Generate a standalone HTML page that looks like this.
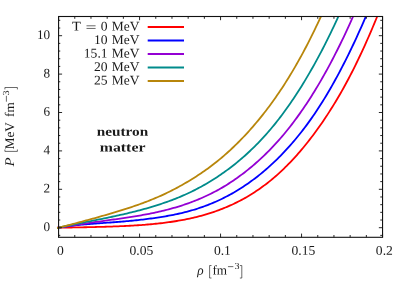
<!DOCTYPE html>
<html><head><meta charset="utf-8"><title>neutron matter pressure</title>
<style>html,body{margin:0;padding:0;background:#fff;}body{width:407px;height:285px;overflow:hidden;position:relative;font-family:"Liberation Serif",serif;}.t,.t text,.t tspan{font-family:"Liberation Serif",serif;}</style>
</head><body>
<svg width="407" height="285" viewBox="0 0 407 285" style="position:absolute;left:0;top:0;will-change:transform;opacity:0.999">
<rect x="0" y="0" width="407" height="285" fill="#fff"/>
<g fill="none" stroke-linejoin="round" stroke-linecap="butt">
<path d="M57.08,227.73 L58.58,227.70 L60.20,227.67 L61.82,227.65 L63.44,227.62 L65.06,227.59 L66.68,227.57 L68.30,227.54 L69.92,227.51 L71.54,227.49 L73.16,227.46 L74.78,227.43 L76.40,227.40 L78.02,227.38 L79.64,227.35 L81.26,227.32 L82.88,227.29 L84.50,227.26 L86.12,227.23 L87.74,227.19 L89.36,227.16 L90.98,227.12 L92.60,227.09 L94.22,227.05 L95.84,227.01 L97.46,226.97 L99.08,226.93 L100.70,226.89 L102.32,226.84 L103.94,226.80 L105.56,226.75 L107.18,226.70 L108.80,226.64 L110.42,226.59 L112.04,226.53 L113.65,226.47 L115.27,226.41 L116.89,226.35 L118.51,226.28 L120.13,226.21 L121.75,226.14 L123.37,226.07 L124.99,225.99 L126.61,225.91 L128.23,225.83 L129.85,225.74 L131.47,225.65 L133.09,225.56 L134.71,225.46 L136.33,225.36 L137.95,225.25 L139.57,225.14 L141.19,225.03 L142.81,224.91 L144.43,224.78 L146.05,224.65 L147.67,224.52 L149.29,224.38 L150.91,224.23 L152.53,224.08 L154.15,223.93 L155.77,223.76 L157.39,223.59 L159.01,223.42 L160.63,223.24 L162.25,223.05 L163.87,222.85 L165.49,222.65 L167.11,222.44 L168.73,222.22 L170.35,221.99 L171.97,221.75 L173.59,221.51 L175.21,221.25 L176.83,220.99 L178.45,220.72 L180.07,220.43 L181.69,220.14 L183.31,219.84 L184.93,219.53 L186.55,219.20 L188.17,218.87 L189.79,218.52 L191.41,218.16 L193.03,217.80 L194.65,217.41 L196.27,217.02 L197.89,216.61 L199.51,216.20 L201.13,215.76 L202.75,215.32 L204.37,214.86 L205.99,214.39 L207.61,213.90 L209.23,213.40 L210.85,212.88 L212.47,212.35 L214.09,211.80 L215.71,211.24 L217.33,210.66 L218.95,210.07 L220.56,209.46 L222.18,208.83 L223.80,208.19 L225.42,207.53 L227.04,206.85 L228.66,206.15 L230.28,205.44 L231.90,204.70 L233.52,203.95 L235.14,203.17 L236.76,202.38 L238.38,201.56 L240.00,200.73 L241.62,199.87 L243.24,198.99 L244.86,198.09 L246.48,197.17 L248.10,196.22 L249.72,195.25 L251.34,194.25 L252.96,193.24 L254.58,192.19 L256.20,191.12 L257.82,190.03 L259.44,188.91 L261.06,187.77 L262.68,186.59 L264.30,185.39 L265.92,184.17 L267.54,182.92 L269.16,181.63 L270.78,180.33 L272.40,178.99 L274.02,177.62 L275.64,176.23 L277.26,174.80 L278.88,173.35 L280.50,171.86 L282.12,170.34 L283.74,168.80 L285.36,167.22 L286.98,165.61 L288.60,163.97 L290.22,162.30 L291.84,160.59 L293.46,158.85 L295.08,157.08 L296.70,155.28 L298.32,153.45 L299.94,151.58 L301.56,149.68 L303.18,147.74 L304.80,145.78 L306.42,143.77 L308.04,141.74 L309.66,139.67 L311.28,137.57 L312.90,135.43 L314.52,133.26 L316.14,131.06 L317.76,128.82 L319.38,126.55 L321.00,124.24 L322.62,121.89 L324.24,119.51 L325.86,117.09 L327.48,114.63 L329.09,112.13 L330.71,109.59 L332.33,107.00 L333.95,104.38 L335.57,101.71 L337.19,99.00 L338.81,96.25 L340.43,93.45 L342.05,90.60 L343.67,87.70 L345.29,84.76 L346.91,81.77 L348.53,78.73 L350.15,75.64 L351.77,72.49 L353.39,69.30 L355.01,66.05 L356.63,62.76 L358.25,59.41 L359.87,56.01 L361.49,52.56 L363.11,49.06 L364.73,45.51 L366.35,41.91 L367.97,38.25 L369.59,34.55 L371.21,30.80 L372.83,27.00 L374.45,23.14 L376.07,19.24 L377.19,16.50" stroke="#ff0000" stroke-width="1.8"/>
<path d="M57.08,227.95 L58.58,227.70 L60.20,227.42 L61.82,227.16 L63.44,226.90 L65.06,226.66 L66.68,226.42 L68.30,226.20 L69.92,225.98 L71.54,225.78 L73.16,225.58 L74.78,225.39 L76.40,225.21 L78.02,225.04 L79.64,224.87 L81.26,224.71 L82.88,224.55 L84.50,224.40 L86.12,224.26 L87.74,224.12 L89.36,223.99 L90.98,223.86 L92.60,223.73 L94.22,223.61 L95.84,223.49 L97.46,223.37 L99.08,223.26 L100.70,223.15 L102.32,223.03 L103.94,222.92 L105.56,222.81 L107.18,222.70 L108.80,222.59 L110.42,222.48 L112.04,222.36 L113.65,222.25 L115.27,222.13 L116.89,222.01 L118.51,221.89 L120.13,221.76 L121.75,221.63 L123.37,221.50 L124.99,221.36 L126.61,221.22 L128.23,221.07 L129.85,220.92 L131.47,220.76 L133.09,220.60 L134.71,220.44 L136.33,220.26 L137.95,220.09 L139.57,219.91 L141.19,219.72 L142.81,219.53 L144.43,219.33 L146.05,219.13 L147.67,218.93 L149.29,218.71 L150.91,218.50 L152.53,218.27 L154.15,218.05 L155.77,217.81 L157.39,217.57 L159.01,217.33 L160.63,217.07 L162.25,216.82 L163.87,216.55 L165.49,216.28 L167.11,215.99 L168.73,215.70 L170.35,215.40 L171.97,215.09 L173.59,214.77 L175.21,214.44 L176.83,214.10 L178.45,213.75 L180.07,213.39 L181.69,213.01 L183.31,212.62 L184.93,212.22 L186.55,211.81 L188.17,211.38 L189.79,210.94 L191.41,210.48 L193.03,210.01 L194.65,209.52 L196.27,209.02 L197.89,208.50 L199.51,207.97 L201.13,207.42 L202.75,206.85 L204.37,206.27 L205.99,205.67 L207.61,205.05 L209.23,204.42 L210.85,203.77 L212.47,203.10 L214.09,202.41 L215.71,201.70 L217.33,200.98 L218.95,200.24 L220.56,199.48 L222.18,198.69 L223.80,197.89 L225.42,197.07 L227.04,196.23 L228.66,195.37 L230.28,194.49 L231.90,193.59 L233.52,192.67 L235.14,191.72 L236.76,190.76 L238.38,189.77 L240.00,188.76 L241.62,187.73 L243.24,186.68 L244.86,185.61 L246.48,184.51 L248.10,183.39 L249.72,182.25 L251.34,181.08 L252.96,179.89 L254.58,178.68 L256.20,177.44 L257.82,176.18 L259.44,174.89 L261.06,173.58 L262.68,172.25 L264.30,170.88 L265.92,169.49 L267.54,168.08 L269.16,166.64 L270.78,165.17 L272.40,163.68 L274.02,162.16 L275.64,160.61 L277.26,159.03 L278.88,157.42 L280.50,155.79 L282.12,154.12 L283.74,152.43 L285.36,150.71 L286.98,148.96 L288.60,147.17 L290.22,145.36 L291.84,143.51 L293.46,141.63 L295.08,139.72 L296.70,137.77 L298.32,135.79 L299.94,133.78 L301.56,131.73 L303.18,129.64 L304.80,127.51 L306.42,125.35 L308.04,123.15 L309.66,120.90 L311.28,118.62 L312.90,116.30 L314.52,113.94 L316.14,111.53 L317.76,109.08 L319.38,106.59 L321.00,104.06 L322.62,101.48 L324.24,98.86 L325.86,96.19 L327.48,93.48 L329.09,90.73 L330.71,87.94 L332.33,85.10 L333.95,82.22 L335.57,79.29 L337.19,76.32 L338.81,73.31 L340.43,70.25 L342.05,67.15 L343.67,64.01 L345.29,60.82 L346.91,57.59 L348.53,54.32 L350.15,51.00 L351.77,47.64 L353.39,44.24 L355.01,40.78 L356.63,37.29 L358.25,33.74 L359.87,30.15 L361.49,26.51 L363.11,22.81 L364.73,19.07 L365.83,16.50" stroke="#0000ff" stroke-width="1.8"/>
<path d="M57.08,227.96 L58.58,227.70 L60.20,227.41 L61.82,227.13 L63.44,226.86 L65.06,226.58 L66.68,226.31 L68.30,226.05 L69.92,225.79 L71.54,225.53 L73.16,225.28 L74.78,225.03 L76.40,224.78 L78.02,224.53 L79.64,224.29 L81.26,224.05 L82.88,223.81 L84.50,223.58 L86.12,223.34 L87.74,223.11 L89.36,222.88 L90.98,222.65 L92.60,222.42 L94.22,222.20 L95.84,221.97 L97.46,221.75 L99.08,221.52 L100.70,221.30 L102.32,221.07 L103.94,220.85 L105.56,220.62 L107.18,220.40 L108.80,220.18 L110.42,219.95 L112.04,219.72 L113.65,219.50 L115.27,219.27 L116.89,219.04 L118.51,218.81 L120.13,218.57 L121.75,218.34 L123.37,218.10 L124.99,217.86 L126.61,217.62 L128.23,217.37 L129.85,217.13 L131.47,216.87 L133.09,216.62 L134.71,216.36 L136.33,216.09 L137.95,215.82 L139.57,215.55 L141.19,215.27 L142.81,214.98 L144.43,214.69 L146.05,214.39 L147.67,214.08 L149.29,213.77 L150.91,213.45 L152.53,213.12 L154.15,212.78 L155.77,212.44 L157.39,212.08 L159.01,211.72 L160.63,211.34 L162.25,210.96 L163.87,210.57 L165.49,210.16 L167.11,209.75 L168.73,209.32 L170.35,208.89 L171.97,208.44 L173.59,207.99 L175.21,207.52 L176.83,207.03 L178.45,206.54 L180.07,206.04 L181.69,205.52 L183.31,204.99 L184.93,204.44 L186.55,203.89 L188.17,203.32 L189.79,202.73 L191.41,202.13 L193.03,201.52 L194.65,200.89 L196.27,200.25 L197.89,199.59 L199.51,198.92 L201.13,198.23 L202.75,197.52 L204.37,196.80 L205.99,196.05 L207.61,195.29 L209.23,194.52 L210.85,193.72 L212.47,192.91 L214.09,192.07 L215.71,191.22 L217.33,190.34 L218.95,189.45 L220.56,188.53 L222.18,187.60 L223.80,186.64 L225.42,185.66 L227.04,184.66 L228.66,183.63 L230.28,182.59 L231.90,181.52 L233.52,180.43 L235.14,179.32 L236.76,178.19 L238.38,177.03 L240.00,175.85 L241.62,174.65 L243.24,173.43 L244.86,172.18 L246.48,170.91 L248.10,169.61 L249.72,168.30 L251.34,166.95 L252.96,165.59 L254.58,164.20 L256.20,162.78 L257.82,161.34 L259.44,159.88 L261.06,158.39 L262.68,156.87 L264.30,155.32 L265.92,153.75 L267.54,152.15 L269.16,150.52 L270.78,148.86 L272.40,147.17 L274.02,145.45 L275.64,143.70 L277.26,141.91 L278.88,140.10 L280.50,138.25 L282.12,136.37 L283.74,134.46 L285.36,132.51 L286.98,130.52 L288.60,128.50 L290.22,126.45 L291.84,124.36 L293.46,122.23 L295.08,120.07 L296.70,117.87 L298.32,115.64 L299.94,113.36 L301.56,111.05 L303.18,108.71 L304.80,106.32 L306.42,103.90 L308.04,101.44 L309.66,98.94 L311.28,96.40 L312.90,93.82 L314.52,91.20 L316.14,88.55 L317.76,85.85 L319.38,83.11 L321.00,80.34 L322.62,77.52 L324.24,74.66 L325.86,71.76 L327.48,68.81 L329.09,65.83 L330.71,62.80 L332.33,59.73 L333.95,56.62 L335.57,53.46 L337.19,50.26 L338.81,47.02 L340.43,43.73 L342.05,40.40 L343.67,37.03 L345.29,33.60 L346.91,30.14 L348.53,26.62 L350.15,23.07 L351.77,19.46 L353.09,16.50" stroke="#9400d3" stroke-width="1.8"/>
<path d="M57.08,228.03 L58.58,227.70 L60.20,227.34 L61.82,226.98 L63.44,226.63 L65.06,226.28 L66.68,225.94 L68.30,225.59 L69.92,225.25 L71.54,224.92 L73.16,224.59 L74.78,224.25 L76.40,223.92 L78.02,223.60 L79.64,223.27 L81.26,222.95 L82.88,222.62 L84.50,222.30 L86.12,221.98 L87.74,221.66 L89.36,221.34 L90.98,221.02 L92.60,220.70 L94.22,220.38 L95.84,220.05 L97.46,219.73 L99.08,219.41 L100.70,219.08 L102.32,218.76 L103.94,218.43 L105.56,218.10 L107.18,217.76 L108.80,217.43 L110.42,217.09 L112.04,216.75 L113.65,216.41 L115.27,216.06 L116.89,215.71 L118.51,215.35 L120.13,214.99 L121.75,214.63 L123.37,214.26 L124.99,213.89 L126.61,213.51 L128.23,213.13 L129.85,212.74 L131.47,212.34 L133.09,211.94 L134.71,211.54 L136.33,211.13 L137.95,210.71 L139.57,210.28 L141.19,209.85 L142.81,209.41 L144.43,208.96 L146.05,208.51 L147.67,208.05 L149.29,207.58 L150.91,207.10 L152.53,206.62 L154.15,206.12 L155.77,205.62 L157.39,205.11 L159.01,204.59 L160.63,204.06 L162.25,203.52 L163.87,202.97 L165.49,202.41 L167.11,201.83 L168.73,201.25 L170.35,200.66 L171.97,200.05 L173.59,199.43 L175.21,198.80 L176.83,198.15 L178.45,197.49 L180.07,196.82 L181.69,196.13 L183.31,195.43 L184.93,194.71 L186.55,193.98 L188.17,193.24 L189.79,192.47 L191.41,191.69 L193.03,190.90 L194.65,190.09 L196.27,189.26 L197.89,188.41 L199.51,187.55 L201.13,186.67 L202.75,185.77 L204.37,184.86 L205.99,183.93 L207.61,182.98 L209.23,182.01 L210.85,181.03 L212.47,180.02 L214.09,179.00 L215.71,177.96 L217.33,176.90 L218.95,175.82 L220.56,174.73 L222.18,173.61 L223.80,172.47 L225.42,171.32 L227.04,170.14 L228.66,168.94 L230.28,167.72 L231.90,166.48 L233.52,165.22 L235.14,163.93 L236.76,162.62 L238.38,161.29 L240.00,159.93 L241.62,158.55 L243.24,157.15 L244.86,155.71 L246.48,154.26 L248.10,152.77 L249.72,151.26 L251.34,149.72 L252.96,148.15 L254.58,146.56 L256.20,144.94 L257.82,143.29 L259.44,141.60 L261.06,139.89 L262.68,138.15 L264.30,136.38 L265.92,134.57 L267.54,132.74 L269.16,130.87 L270.78,128.97 L272.40,127.04 L274.02,125.07 L275.64,123.07 L277.26,121.04 L278.88,118.97 L280.50,116.86 L282.12,114.72 L283.74,112.54 L285.36,110.33 L286.98,108.08 L288.60,105.79 L290.22,103.47 L291.84,101.11 L293.46,98.71 L295.08,96.27 L296.70,93.80 L298.32,91.28 L299.94,88.73 L301.56,86.15 L303.18,83.52 L304.80,80.86 L306.42,78.15 L308.04,75.41 L309.66,72.64 L311.28,69.82 L312.90,66.96 L314.52,64.07 L316.14,61.14 L317.76,58.16 L319.38,55.15 L321.00,52.10 L322.62,49.01 L324.24,45.87 L325.86,42.69 L327.48,39.46 L329.09,36.18 L330.71,32.85 L332.33,29.47 L333.95,26.04 L335.57,22.56 L337.19,19.01 L338.33,16.50" stroke="#008b8b" stroke-width="1.8"/>
<path d="M57.08,228.09 L58.58,227.70 L60.20,227.28 L61.82,226.87 L63.44,226.45 L65.06,226.03 L66.68,225.61 L68.30,225.19 L69.92,224.77 L71.54,224.35 L73.16,223.92 L74.78,223.50 L76.40,223.07 L78.02,222.64 L79.64,222.22 L81.26,221.78 L82.88,221.35 L84.50,220.92 L86.12,220.48 L87.74,220.04 L89.36,219.60 L90.98,219.16 L92.60,218.71 L94.22,218.26 L95.84,217.81 L97.46,217.36 L99.08,216.90 L100.70,216.44 L102.32,215.98 L103.94,215.51 L105.56,215.04 L107.18,214.57 L108.80,214.10 L110.42,213.62 L112.04,213.14 L113.65,212.65 L115.27,212.16 L116.89,211.67 L118.51,211.17 L120.13,210.67 L121.75,210.16 L123.37,209.65 L124.99,209.14 L126.61,208.62 L128.23,208.09 L129.85,207.56 L131.47,207.03 L133.09,206.48 L134.71,205.93 L136.33,205.38 L137.95,204.81 L139.57,204.24 L141.19,203.65 L142.81,203.06 L144.43,202.46 L146.05,201.85 L147.67,201.23 L149.29,200.59 L150.91,199.95 L152.53,199.29 L154.15,198.62 L155.77,197.94 L157.39,197.24 L159.01,196.54 L160.63,195.81 L162.25,195.08 L163.87,194.33 L165.49,193.57 L167.11,192.79 L168.73,192.00 L170.35,191.20 L171.97,190.38 L173.59,189.55 L175.21,188.70 L176.83,187.84 L178.45,186.97 L180.07,186.08 L181.69,185.18 L183.31,184.26 L184.93,183.33 L186.55,182.39 L188.17,181.43 L189.79,180.45 L191.41,179.47 L193.03,178.46 L194.65,177.44 L196.27,176.41 L197.89,175.35 L199.51,174.28 L201.13,173.19 L202.75,172.09 L204.37,170.96 L205.99,169.82 L207.61,168.65 L209.23,167.47 L210.85,166.27 L212.47,165.04 L214.09,163.79 L215.71,162.52 L217.33,161.23 L218.95,159.92 L220.56,158.58 L222.18,157.22 L223.80,155.83 L225.42,154.42 L227.04,152.99 L228.66,151.53 L230.28,150.04 L231.90,148.53 L233.52,147.00 L235.14,145.44 L236.76,143.86 L238.38,142.24 L240.00,140.61 L241.62,138.94 L243.24,137.25 L244.86,135.54 L246.48,133.80 L248.10,132.03 L249.72,130.23 L251.34,128.41 L252.96,126.55 L254.58,124.68 L256.20,122.77 L257.82,120.83 L259.44,118.87 L261.06,116.87 L262.68,114.84 L264.30,112.79 L265.92,110.70 L267.54,108.57 L269.16,106.42 L270.78,104.23 L272.40,102.00 L274.02,99.74 L275.64,97.44 L277.26,95.11 L278.88,92.74 L280.50,90.33 L282.12,87.89 L283.74,85.40 L285.36,82.87 L286.98,80.31 L288.60,77.70 L290.22,75.05 L291.84,72.36 L293.46,69.63 L295.08,66.86 L296.70,64.04 L298.32,61.18 L299.94,58.27 L301.56,55.32 L303.18,52.33 L304.80,49.29 L306.42,46.21 L308.04,43.07 L309.66,39.90 L311.28,36.67 L312.90,33.40 L314.52,30.08 L316.14,26.71 L317.76,23.30 L319.38,19.83 L320.91,16.50" stroke="#b8860b" stroke-width="1.8"/>
</g>
<g fill="none">
<line x1="147.7" y1="27.0" x2="184" y2="27.0" stroke="#ff0000" stroke-width="2"/>
<line x1="147.7" y1="40.5" x2="184" y2="40.5" stroke="#0000ff" stroke-width="2"/>
<line x1="147.7" y1="54.0" x2="184" y2="54.0" stroke="#9400d3" stroke-width="2"/>
<line x1="147.7" y1="67.5" x2="184" y2="67.5" stroke="#008b8b" stroke-width="2"/>
<line x1="147.7" y1="81.0" x2="184" y2="81.0" stroke="#b8860b" stroke-width="2"/>
</g>
<path d="M58.58,237.3 v-3.7 M58.58,16.5 v3.7 M74.78,237.3 v-2.3 M74.78,16.5 v2.3 M90.98,237.3 v-2.3 M90.98,16.5 v2.3 M107.18,237.3 v-2.3 M107.18,16.5 v2.3 M123.37,237.3 v-2.3 M123.37,16.5 v2.3 M139.57,237.3 v-3.7 M139.57,16.5 v3.7 M155.77,237.3 v-2.3 M155.77,16.5 v2.3 M171.97,237.3 v-2.3 M171.97,16.5 v2.3 M188.17,237.3 v-2.3 M188.17,16.5 v2.3 M204.37,237.3 v-2.3 M204.37,16.5 v2.3 M220.56,237.3 v-3.7 M220.56,16.5 v3.7 M236.76,237.3 v-2.3 M236.76,16.5 v2.3 M252.96,237.3 v-2.3 M252.96,16.5 v2.3 M269.16,237.3 v-2.3 M269.16,16.5 v2.3 M285.36,237.3 v-2.3 M285.36,16.5 v2.3 M301.56,237.3 v-3.7 M301.56,16.5 v3.7 M317.76,237.3 v-2.3 M317.76,16.5 v2.3 M333.95,237.3 v-2.3 M333.95,16.5 v2.3 M350.15,237.3 v-2.3 M350.15,16.5 v2.3 M366.35,237.3 v-2.3 M366.35,16.5 v2.3 M382.55,237.3 v-3.7 M382.55,16.5 v3.7 M58.58,235.38 h1.7 M382.55,235.38 h-2.3 M58.58,227.70 h3.5 M382.55,227.70 h-3.7 M58.58,220.02 h1.7 M382.55,220.02 h-2.3 M58.58,212.34 h1.7 M382.55,212.34 h-2.3 M58.58,204.66 h1.7 M382.55,204.66 h-2.3 M58.58,196.98 h1.7 M382.55,196.98 h-2.3 M58.58,189.30 h3.5 M382.55,189.30 h-3.7 M58.58,181.62 h1.7 M382.55,181.62 h-2.3 M58.58,173.94 h1.7 M382.55,173.94 h-2.3 M58.58,166.26 h1.7 M382.55,166.26 h-2.3 M58.58,158.58 h1.7 M382.55,158.58 h-2.3 M58.58,150.90 h3.5 M382.55,150.90 h-3.7 M58.58,143.22 h1.7 M382.55,143.22 h-2.3 M58.58,135.54 h1.7 M382.55,135.54 h-2.3 M58.58,127.86 h1.7 M382.55,127.86 h-2.3 M58.58,120.18 h1.7 M382.55,120.18 h-2.3 M58.58,112.50 h3.5 M382.55,112.50 h-3.7 M58.58,104.82 h1.7 M382.55,104.82 h-2.3 M58.58,97.14 h1.7 M382.55,97.14 h-2.3 M58.58,89.46 h1.7 M382.55,89.46 h-2.3 M58.58,81.78 h1.7 M382.55,81.78 h-2.3 M58.58,74.10 h3.5 M382.55,74.10 h-3.7 M58.58,66.42 h1.7 M382.55,66.42 h-2.3 M58.58,58.74 h1.7 M382.55,58.74 h-2.3 M58.58,51.06 h1.7 M382.55,51.06 h-2.3 M58.58,43.38 h1.7 M382.55,43.38 h-2.3 M58.58,35.70 h3.5 M382.55,35.70 h-3.7 M58.58,28.02 h1.7 M382.55,28.02 h-2.3 M58.58,20.34 h1.7 M382.55,20.34 h-2.3" stroke="#111" stroke-width="0.9" fill="none"/>
<rect x="58.58" y="16.5" width="323.97" height="220.8" fill="none" stroke="#111" stroke-width="1.1"/>
<g class="t" font-size="13.2" fill="#1a1a1a" text-rendering="geometricPrecision">
<text transform="translate(50.20,231.00) rotate(0.05) scale(1.0,1)" text-anchor="end" >0</text>
<text transform="translate(50.20,192.60) rotate(0.05) scale(1.0,1)" text-anchor="end" >2</text>
<text transform="translate(50.20,154.20) rotate(0.05) scale(1.0,1)" text-anchor="end" >4</text>
<text transform="translate(50.20,115.80) rotate(0.05) scale(1.0,1)" text-anchor="end" >6</text>
<text transform="translate(50.20,77.40) rotate(0.05) scale(1.0,1)" text-anchor="end" >8</text>
<text transform="translate(50.20,39.00) rotate(0.05) scale(1.0,1)" text-anchor="end" >10</text>
<text transform="translate(60.38,254.70) rotate(0.05) scale(1.03,1)" text-anchor="middle" >0</text>
<text transform="translate(141.37,254.70) rotate(0.05) scale(1.03,1)" text-anchor="middle" >0.05</text>
<text transform="translate(222.37,254.70) rotate(0.05) scale(1.03,1)" text-anchor="middle" >0.1</text>
<text transform="translate(303.36,254.70) rotate(0.05) scale(1.03,1)" text-anchor="middle" >0.15</text>
<text transform="translate(384.35,254.70) rotate(0.05) scale(1.03,1)" text-anchor="middle" >0.2</text>
<text transform="translate(139.50,30.60) rotate(0.05) scale(1.02,1)" text-anchor="end" >MeV</text>
<text transform="translate(107.60,30.60) rotate(0.05) scale(1.03,1)" text-anchor="end" >0</text>
<text transform="translate(139.50,44.10) rotate(0.05) scale(1.02,1)" text-anchor="end" >MeV</text>
<text transform="translate(107.60,44.10) rotate(0.05) scale(1.03,1)" text-anchor="end" >10</text>
<text transform="translate(139.50,57.60) rotate(0.05) scale(1.02,1)" text-anchor="end" >MeV</text>
<text transform="translate(107.60,57.60) rotate(0.05) scale(1.03,1)" text-anchor="end" >15.1</text>
<text transform="translate(139.50,71.10) rotate(0.05) scale(1.02,1)" text-anchor="end" >MeV</text>
<text transform="translate(107.60,71.10) rotate(0.05) scale(1.03,1)" text-anchor="end" >20</text>
<text transform="translate(139.50,84.60) rotate(0.05) scale(1.02,1)" text-anchor="end" >MeV</text>
<text transform="translate(107.60,84.60) rotate(0.05) scale(1.03,1)" text-anchor="end" >25</text>
<text transform="translate(72.00,30.60) rotate(0.05) scale(1.1,1)" text-anchor="start" >T</text>
<path d="M86.5,25.80 h9.1 M86.5,28.45 h9.1" stroke="#1a1a1a" stroke-width="0.65" fill="none"/>
<g transform="translate(197.3,274.6) rotate(0.05)"><text transform="translate(0,0) scale(1.0,1)" font-style="italic">ρ</text><text x="15.1" y="0">fm</text><text transform="translate(37.30,-5.6) scale(1.1,1)" font-size="9.2">3</text><path d="M14.20,-9.1 h-1.9 v12.5 h1.9 M30.65,-8.0 h5.4 M42.60,-9.1 h1.9 v12.5 h-1.9" stroke="#1a1a1a" stroke-width="0.65" fill="none"/></g>
<g transform="translate(14.0,165.3) rotate(-90)"><text transform="translate(-1.3,0) scale(1.12,1)" font-style="italic">P</text><text x="16.0" y="0">MeV</text><text x="48.3" y="0">fm</text><text transform="translate(69.80,-5.0) scale(1.1,1)" font-size="9.2">3</text><path d="M15.80,-9.1 h-1.9 v12.5 h1.9 M63.60,-7.6 h5.9 M75.90,-9.1 h1.9 v12.5 h-1.9" stroke="#1a1a1a" stroke-width="0.65" fill="none"/></g>
<text transform="translate(122.5,135.8) rotate(0.05)" text-anchor="middle" font-weight="bold" font-size="13" textLength="51.4" lengthAdjust="spacingAndGlyphs">neutron</text>
<text transform="translate(122.6,151.5) rotate(0.05)" text-anchor="middle" font-weight="bold" font-size="13" textLength="45.6" lengthAdjust="spacingAndGlyphs">matter</text>
</g>
</svg>
</body></html>
